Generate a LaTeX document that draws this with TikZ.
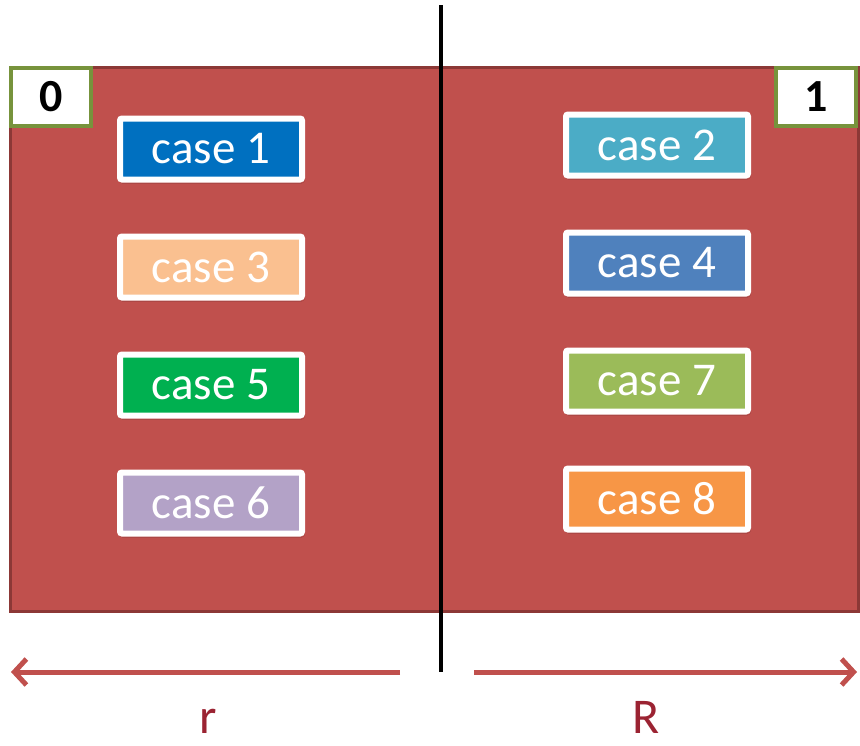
\documentclass[tikz,border=0pt]{standalone}
\usepackage{fontspec}
\setmainfont{Carlito}
\usetikzlibrary{positioning, arrows.meta, shadows.blur}

\definecolor{areaRed}{RGB}{192,80,77}
\definecolor{areaEdge}{RGB}{140,56,54}
\definecolor{tagGreen}{RGB}{119,147,60}
\definecolor{labelRed}{RGB}{155,35,50}
\definecolor{cOne}{RGB}{0,112,192}
\definecolor{cTwo}{RGB}{75,172,198}
\definecolor{cThree}{RGB}{250,192,144}
\definecolor{cFour}{RGB}{79,129,189}
\definecolor{cFive}{RGB}{0,176,80}
\definecolor{cSix}{RGB}{179,162,199}
\definecolor{cSeven}{RGB}{155,187,89}
\definecolor{cEight}{RGB}{247,150,70}

\begin{document}
\begin{tikzpicture}[x=1pt, y=-1pt, node distance=118pt,
    casebox/.style={draw=white, line width=6pt, rounded corners=2pt, minimum width=182pt, minimum height=61pt, inner sep=0pt, text=white, font=\fontsize{47}{47}\selectfont, blur shadow={shadow xshift=1pt, shadow yshift=-2pt, shadow blur steps=4, shadow opacity=30}},
    tagbox/.style={draw=tagGreen, fill=white, line width=4.5pt, minimum width=80pt, minimum height=58pt, inner sep=0pt, font=\fontsize{46}{46}\selectfont\bfseries},
    sidelabel/.style={anchor=base, inner sep=0pt, text=labelRed, font=\fontsize{50}{50}\selectfont}]
        \useasboundingbox (0,0) rectangle (860,745);

        \draw[fill=areaRed, draw=areaEdge, line width=3pt] (10,67) rectangle (858,611);
        \node[tagbox] (zero) at (51,97) {0};
        \node[tagbox] (one) at (816,97) {1};

        \node[casebox, fill=cOne] (c1) at (211,149) {case 1};
        \node[casebox, fill=cThree, below of=c1] (c3) {case 3};
        \node[casebox, fill=cFive, below of=c3] (c5) {case 5};
        \node[casebox, fill=cSix, below of=c5] (c6) {case 6};

        \node[casebox, fill=cTwo] (c2) at (657,145) {case 2};
        \node[casebox, fill=cFour, below of=c2] (c4) {case 4};
        \node[casebox, fill=cSeven, below of=c4] (c7) {case 7};
        \node[casebox, fill=cEight, below of=c7] (c8) {case 8};

        \coordinate (top) at (441,5);
        \coordinate (bottom) at (441,672);
        \coordinate (lstart) at (400,672);
        \coordinate (lend) at (11,672);
        \coordinate (rstart) at (474,672);
        \coordinate (rend) at (857,672);
        \draw[line width=3.5pt] (top) -- (bottom);
        \draw[-{Straight Barb[length=12pt, width=26pt]}, draw=areaRed, line width=5pt] (lstart) -- (lend);
        \draw[-{Straight Barb[length=12pt, width=26pt]}, draw=areaRed, line width=5pt] (rstart) -- (rend);

        \node[sidelabel] (small) at (208,733) {r};
        \node[sidelabel] (big) at (646,733) {R};
      \end{tikzpicture}
\end{document}
